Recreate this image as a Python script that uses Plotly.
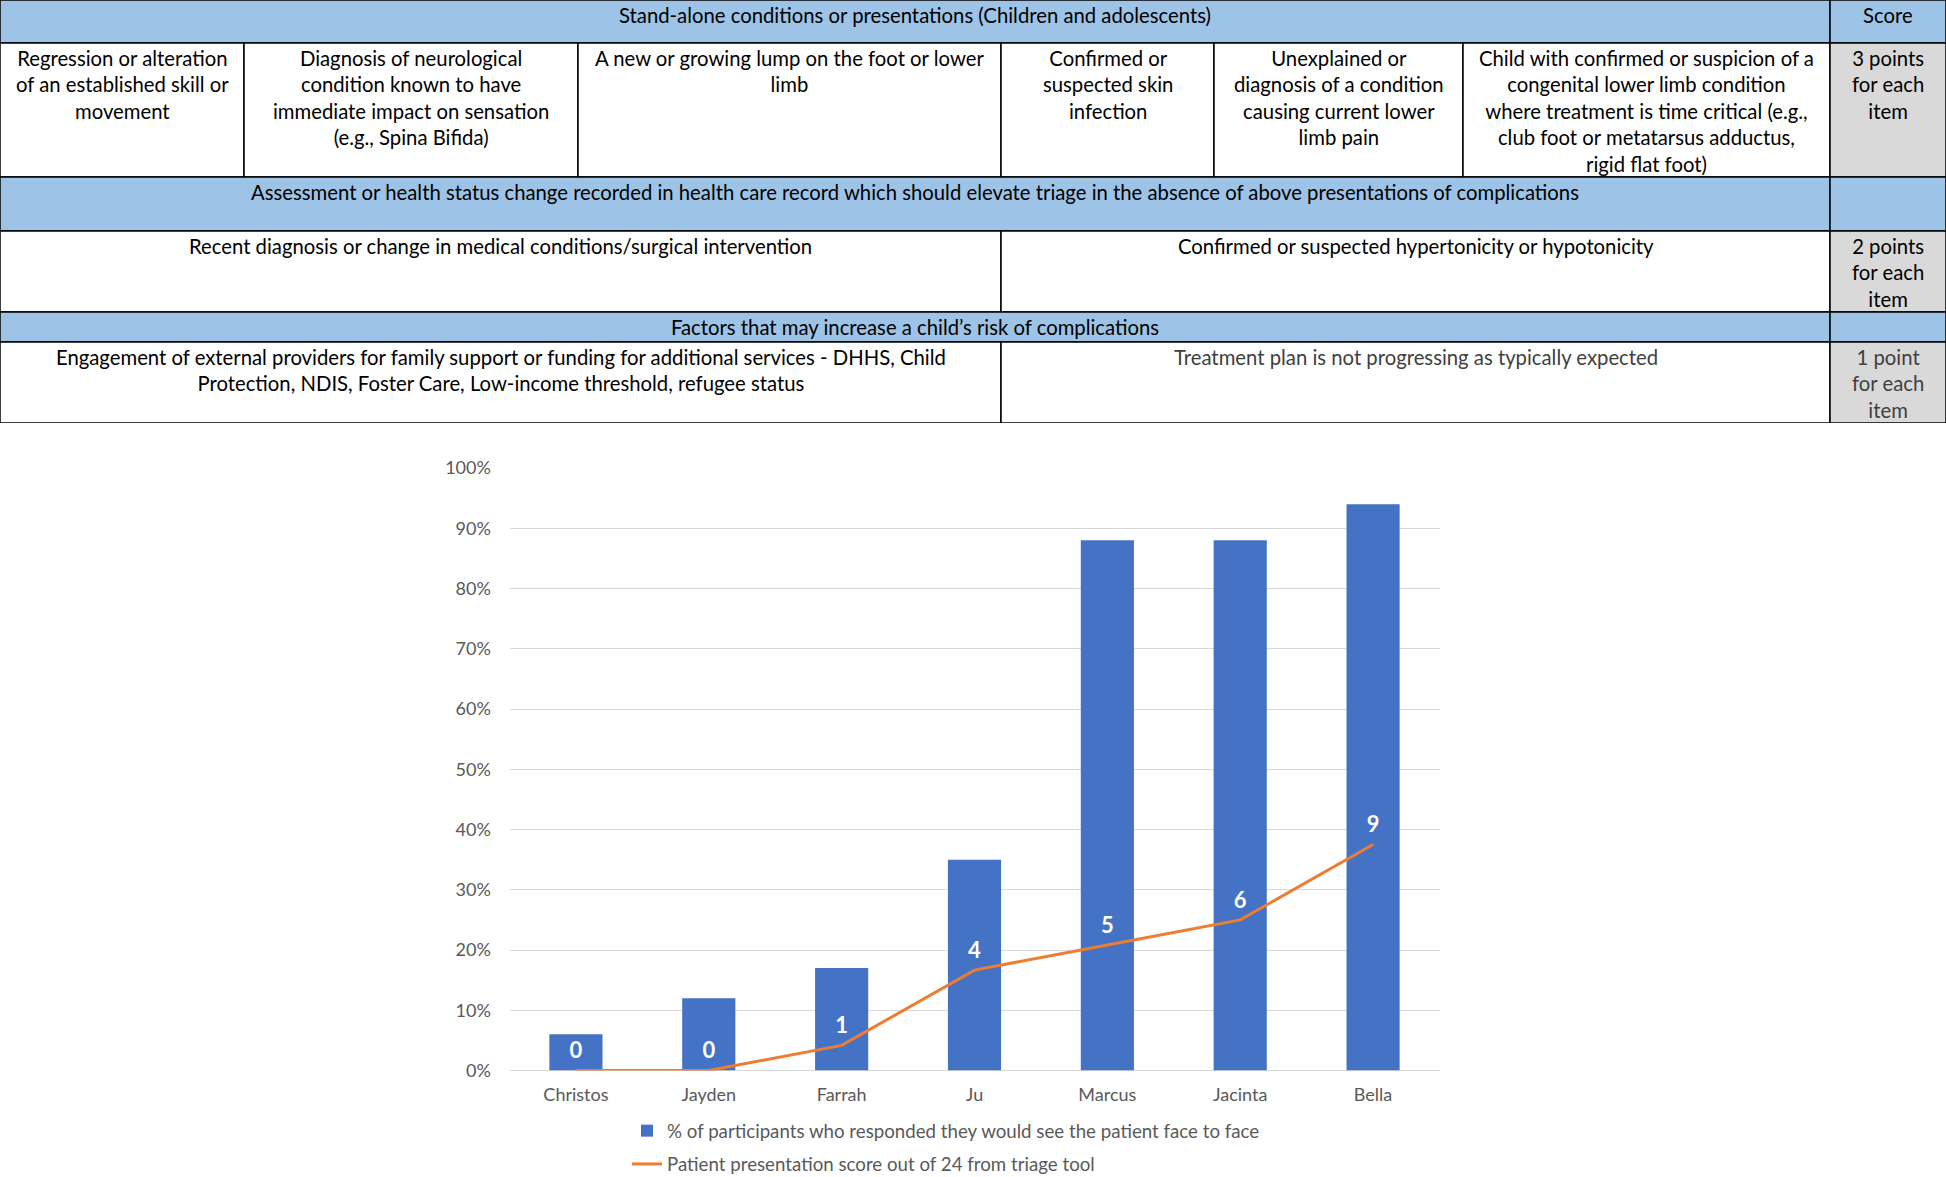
import plotly.graph_objects as go

# ---------------- data ----------------
patients = ["Christos", "Jayden", "Farrah", "Ju", "Marcus", "Jacinta", "Bella"]
pct_face_to_face = [6, 12, 17, 35, 88, 88, 94]          # % of participants
triage_scores = [0, 0, 1, 4, 5, 6, 9]                   # score out of 24
score_max = 24
y_ticks = [0, 10, 20, 30, 40, 50, 60, 70, 80, 90, 100]
y_tick_labels = ["0%", "10%", "20%", "30%", "40%", "50%", "60%", "70%", "80%", "90%", "100%"]

bar_name = "% of participants who responded they would see the patient face to face"
line_name = "Patient presentation score out of 24 from triage tool"

# table texts
section1_title = "Stand-alone conditions or presentations (Children and adolescents)"
score_title = "Score"
standalone_items = [
    "Regression or alteration<br>of an established skill or<br>movement",
    "Diagnosis of neurological<br>condition known to have<br>immediate impact on sensation<br>(e.g., Spina Bifida)",
    "A new or growing lump on the foot or lower<br>limb",
    "Confirmed or<br>suspected skin<br>infection",
    "Unexplained or<br>diagnosis of a condition<br>causing current lower<br>limb pain",
    "Child with confirmed or suspicion of a<br>congenital lower limb condition<br>where treatment is time critical (e.g.,<br>club foot or metatarsus adductus,<br>rigid flat foot)",
]
standalone_score = "3 points<br>for each<br>item"
section2_title = ("Assessment or health status change recorded in health care record which should "
                  "elevate triage in the absence of above presentations of complications")
assessment_items = [
    "Recent diagnosis or change in medical conditions/surgical intervention",
    "Confirmed or suspected hypertonicity or hypotonicity",
]
assessment_score = "2 points<br>for each<br>item"
section3_title = "Factors that may increase a child\u2019s risk of complications"
factor_items = [
    "Engagement of external providers for family support or funding for additional services - DHHS, Child<br>Protection, NDIS, Foster Care, Low-income threshold, refugee status",
    "Treatment plan is not progressing as typically expected",
]
factor_score = "1 point<br>for each<br>item"

# ---------------- table layout (in table-axis units) ----------------
col_edges = [0, 244, 578, 1001, 1214, 1463, 1830, 1946]
row_edges = [0, 43, 177, 231, 312, 342, 423]

BLUE = "#9DC3E6"
GREY = "#D9D9D9"
WHITE = "#FFFFFF"
FONT = "Lato"
TFS = 20.3

# cells: (row, col_start, col_end, text, fill, text colour)
cells = [(0, 0, 6, section1_title, BLUE, "black"), (0, 6, 7, score_title, BLUE, "black")]
for i, t in enumerate(standalone_items):
    cells.append((1, i, i + 1, t, WHITE, "black"))
cells.append((1, 6, 7, standalone_score, GREY, "black"))
cells += [(2, 0, 6, section2_title, BLUE, "black"), (2, 6, 7, "", BLUE, "black")]
cells += [(3, 0, 3, assessment_items[0], WHITE, "black"),
          (3, 3, 6, assessment_items[1], WHITE, "black"),
          (3, 6, 7, assessment_score, GREY, "black")]
cells += [(4, 0, 6, section3_title, BLUE, "black"), (4, 6, 7, "", BLUE, "black")]
cells += [(5, 0, 3, factor_items[0], WHITE, "black"),
          (5, 3, 6, factor_items[1], WHITE, "#404040"),
          (5, 6, 7, factor_score, GREY, "#404040")]

fig = go.Figure()

# ---------------- chart ----------------
fig.add_trace(go.Bar(
    x=patients, y=pct_face_to_face, name=bar_name, legendgroup="a",
    marker=dict(color="#4472C4", line=dict(width=0)),
    xaxis="x", yaxis="y",
))
fig.add_trace(go.Scatter(
    x=patients, y=[s / score_max * 100 for s in triage_scores], name=line_name, legendgroup="b",
    mode="lines+markers+text",
    line=dict(color="#ED7D31", width=3),
    marker=dict(size=9, color="rgba(0,0,0,0)"),
    text=[str(s) for s in triage_scores], textposition="top center",
    textfont=dict(family=FONT, size=22, color="white", weight="bold"),
    xaxis="x", yaxis="y", cliponaxis=False,
))

W, H = 1946, 1177
table_h = row_edges[-1]

shapes = []
annotations = []
for (r, c0, c1, txt, fill, tcol) in cells:
    x0, x1 = col_edges[c0], col_edges[c1]
    y0, y1 = row_edges[r], row_edges[r + 1]
    shapes.append(dict(type="rect", xref="x2", yref="y2", x0=x0, x1=x1, y0=y0, y1=y1,
                       fillcolor=fill, line=dict(color="black", width=1.5), layer="below"))
    if txt:
        annotations.append(dict(xref="x2", yref="y2", x=(x0 + x1) / 2, y=y0 + 1,
                                xanchor="center", yanchor="top", text=txt, showarrow=False,
                                align="center", font=dict(family=FONT, size=TFS, color=tcol)))

fig.update_layout(
    width=W, height=H,
    margin=dict(l=0, r=0, t=0, b=0, autoexpand=False),
    paper_bgcolor="white", plot_bgcolor="white",
    bargap=0.6,
    showlegend=True,
    legend=dict(x=627 / W, y=1 - 1112 / H, xanchor="left", yanchor="top",
                traceorder="grouped", tracegroupgap=6,
                font=dict(family=FONT, size=18.7, color="#595959"),
                itemwidth=30, bgcolor="rgba(0,0,0,0)"),
    xaxis=dict(domain=[509.5 / W, 1439.5 / W], anchor="y",
               showgrid=False, showline=False, zeroline=False,
               ticks="outside", ticklen=8, tickcolor="rgba(0,0,0,0)",
               tickfont=dict(family=FONT, size=18, color="#595959")),
    yaxis=dict(domain=[1 - 1070.5 / H, 1 - 468 / H], anchor="x",
               range=[0, 100], tickmode="array", tickvals=y_ticks, ticktext=y_tick_labels,
               showgrid=True, gridcolor="#D9D9D9", gridwidth=1.3,
               zeroline=True, zerolinecolor="#D9D9D9", zerolinewidth=1.3,
               showline=False, ticks="outside", ticklen=14, tickcolor="rgba(0,0,0,0)",
               tickfont=dict(family=FONT, size=18, color="#595959")),
    xaxis2=dict(domain=[0, 1], anchor="y2", range=[0, W], visible=False, fixedrange=True),
    yaxis2=dict(domain=[1 - table_h / H, 1], anchor="x2", range=[table_h, 0],
                visible=False, fixedrange=True),
    shapes=shapes, annotations=annotations,
)

fig.write_html("out.html", config={"displayModeBar": False},
               post_script="document.body.style.margin='0';")
